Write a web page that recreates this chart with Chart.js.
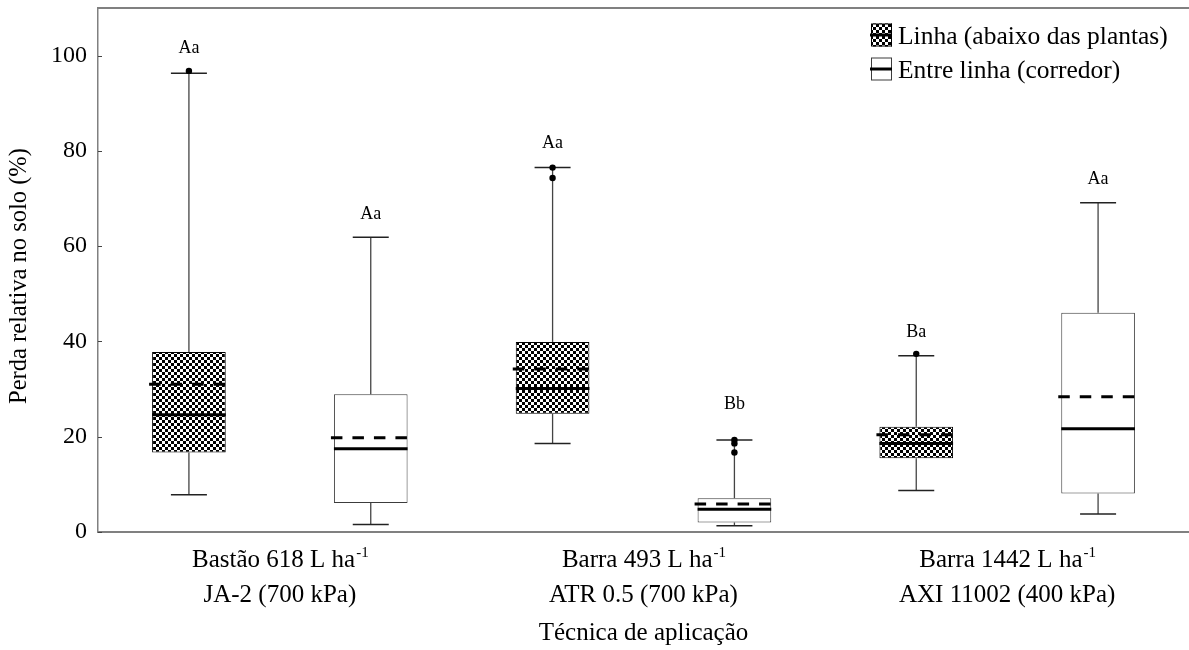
<!DOCTYPE html>
<html>
<head>
<meta charset="utf-8">
<script src="https://cdn.jsdelivr.net/npm/chart.js@4.4.0/dist/chart.umd.min.js"></script>
<style>
  html, body { margin: 0; padding: 0; background: #fff; }
  canvas { display: block; }
</style>
</head>
<body>
<canvas id="chart" width="1189" height="650"></canvas>
<script>
// Application techniques (x categories): rate line with superscript unit, nozzle line
const rateLabels = ['Bastão 618 L ha', 'Barra 493 L ha', 'Barra 1442 L ha'];
const rateUnitSup = '-1';
const nozzleLabels = ['JA-2 (700 kPa)', 'ATR 0.5 (700 kPa)', 'AXI 11002 (400 kPa)'];
const xTitle = 'Técnica de aplicação';
const yTitle = 'Perda relativa no solo (%)';
const yTicks = [0, 20, 40, 60, 80, 100];
const seriesNames = ['Linha (abaixo das plantas)', 'Entre linha (corredor)'];

// Linha (abaixo das plantas)
const linhaMin = [7.8, 18.6, 8.7];
const linhaQ1 = [16.7, 24.8, 15.5];
const linhaMedian = [24.6, 30.1, 18.6];
const linhaMean = [31.0, 34.2, 20.4];
const linhaQ3 = [37.8, 39.9, 22.1];
const linhaMax = [96.3, 76.5, 37.0];
const linhaOutliers = [[96.8], [76.5, 74.3], [37.4]];
const linhaLetters = ['Aa', 'Aa', 'Ba'];
const linhaLetterAt = [101.5, 81.7, 42.0];

// Entre linha (corredor)
const entreMin = [1.6, 1.3, 3.8];
const entreQ1 = [6.1, 2.0, 8.1];
const entreMedian = [17.5, 4.8, 21.7];
const entreMean = [19.8, 5.9, 28.4];
const entreQ3 = [28.9, 7.1, 46.0];
const entreMax = [61.9, 19.3, 69.1];
const entreOutliers = [[], [19.3, 18.6, 16.7], []];
const entreLetters = ['Aa', 'Bb', 'Aa'];
const entreLetterAt = [66.7, 26.9, 74.1];

const SERIF = '"Liberation Serif", "Times New Roman", serif';
const AXIS_GREY = '#808080';

// 3px black/white checkerboard used for the "Linha" boxes
function checkerTile() {
  const c = document.createElement('canvas');
  c.width = 6; c.height = 6;
  const g = c.getContext('2d');
  g.fillStyle = '#fff'; g.fillRect(0, 0, 6, 6);
  g.fillStyle = '#000'; g.fillRect(0, 0, 3, 3); g.fillRect(3, 3, 3, 3);
  return c;
}
const canvas = document.getElementById('chart');
const checkerFill = canvas.getContext('2d').createPattern(checkerTile(), 'repeat');

const series = [
  { name: seriesNames[0], min: linhaMin, q1: linhaQ1, median: linhaMedian, mean: linhaMean,
    q3: linhaQ3, max: linhaMax, outliers: linhaOutliers, letters: linhaLetters,
    letterAt: linhaLetterAt, fill: checkerFill, edge: '#000' },
  { name: seriesNames[1], min: entreMin, q1: entreQ1, median: entreMedian, mean: entreMean,
    q3: entreQ3, max: entreMax, outliers: entreOutliers, letters: entreLetters,
    letterAt: entreLetterAt, fill: '#fff', edge: '#3c3c3c' }
];

function seg(ctx, x1, y1, x2, y2) {
  ctx.beginPath(); ctx.moveTo(x1, y1); ctx.lineTo(x2, y2); ctx.stroke();
}

// Whiskers, caps, medians, means, outliers and significance letters
const boxExtras = {
  id: 'boxExtras',
  afterDatasetsDraw(chart) {
    const ctx = chart.ctx;
    const ys = chart.scales.y;
    series.forEach((s, di) => {
      chart.getDatasetMeta(di).data.forEach((bar, i) => {
        const { x, width } = bar.getProps(['x', 'width'], true);
        const half = width / 2;
        const left = x - half, right = x + half;
        const py = v => ys.getPixelForValue(v);
        const capHalf = 18;
        ctx.save();
        ctx.strokeStyle = '#444';
        ctx.lineWidth = 1.3;
        seg(ctx, x, py(s.q3[i]), x, py(s.max[i]));
        seg(ctx, x, py(s.q1[i]), x, py(s.min[i]));
        ctx.lineWidth = 1.5;
        ctx.strokeStyle = '#222';
        seg(ctx, x - capHalf, py(s.max[i]), x + capHalf, py(s.max[i]));
        seg(ctx, x - capHalf, py(s.min[i]), x + capHalf, py(s.min[i]));
        // median
        ctx.strokeStyle = '#000';
        ctx.lineWidth = 3;
        seg(ctx, left, py(s.median[i]), right, py(s.median[i]));
        // mean
        ctx.setLineDash([11.5, 10]);
        seg(ctx, left - 3, py(s.mean[i]), right, py(s.mean[i]));
        ctx.setLineDash([]);
        // outliers
        ctx.fillStyle = '#000';
        s.outliers[i].forEach(v => {
          ctx.beginPath(); ctx.arc(x, py(v), 3.2, 0, Math.PI * 2); ctx.fill();
        });
        // letters
        ctx.font = '18px ' + SERIF;
        ctx.textAlign = 'center';
        ctx.textBaseline = 'middle';
        ctx.fillText(s.letters[i], x, py(s.letterAt[i]));
        ctx.restore();
      });
    });
  },
  afterDraw(chart) {
    const ctx = chart.ctx;
    const area = chart.chartArea;
    const xs = chart.scales.x, ys = chart.scales.y;
    ctx.save();
    // top frame line
    ctx.strokeStyle = AXIS_GREY;
    ctx.lineWidth = 2;
    seg(ctx, area.left, area.top, area.right, area.top);
    // inward y tick marks
    ctx.lineWidth = 1;
    ctx.strokeStyle = '#444';
    yTicks.forEach(v => {
      const p = Math.round(ys.getPixelForValue(v)) + 0.5;
      seg(ctx, area.left, p, area.left + 4, p);
    });

    // category labels
    const labFont = '25px ' + SERIF;
    const supFont = '15px ' + SERIF;
    ctx.fillStyle = '#000';
    ctx.textBaseline = 'alphabetic';
    rateLabels.forEach((lab, i) => {
      const cx = xs.getPixelForValue(i);
      ctx.font = labFont;
      const w1 = ctx.measureText(lab).width;
      ctx.font = supFont;
      const w2 = ctx.measureText(rateUnitSup).width;
      const x0 = cx - (w1 + w2) / 2;
      ctx.textAlign = 'left';
      ctx.font = labFont;
      ctx.fillText(lab, x0, 567);
      ctx.font = supFont;
      ctx.fillText(rateUnitSup, x0 + w1 + 1, 557);
      ctx.textAlign = 'center';
      ctx.font = labFont;
      ctx.fillText(nozzleLabels[i], cx, 602);
    });
    ctx.textAlign = 'center';
    ctx.font = labFont;
    ctx.fillText(xTitle, (area.left + area.right) / 2, 640);

    // y title
    ctx.save();
    ctx.translate(20, 276);
    ctx.rotate(-Math.PI / 2);
    ctx.textBaseline = 'middle';
    ctx.font = '24.5px ' + SERIF;
    ctx.fillText(yTitle, 0, 0);
    ctx.restore();

    // legend
    const lx = 871, iconW = 21, iconH = 23;
    const rows = [35, 69];
    series.forEach((s, di) => {
      const cy = rows[di];
      ctx.fillStyle = s.fill;
      ctx.fillRect(lx, cy - iconH / 2, iconW, iconH);
      ctx.strokeStyle = s.edge;
      ctx.lineWidth = 1;
      ctx.strokeRect(lx + 0.5, cy - iconH / 2 + 0.5, iconW - 1, iconH - 1);
      ctx.strokeStyle = '#000';
      ctx.lineWidth = 3;
      seg(ctx, lx - 1, cy, lx + iconW, cy);
      ctx.fillStyle = '#000';
      ctx.font = '25.5px ' + SERIF;
      ctx.textAlign = 'left';
      ctx.textBaseline = 'middle';
      ctx.fillText(s.name, lx + 27, cy + 2);
    });
    ctx.restore();
  }
};

new Chart(canvas, {
  type: 'bar',
  data: {
    labels: rateLabels,
    datasets: series.map(s => ({
      label: s.name,
      data: s.q1.map((v, i) => [v, s.q3[i]]),
      backgroundColor: s.fill,
      borderColor: s.edge,
      borderWidth: 1,
      borderSkipped: false,
      barPercentage: 0.405,
      categoryPercentage: 1.0
    }))
  },
  options: {
    responsive: false,
    animation: false,
    events: [],
    layout: { padding: { top: 8, right: 0, bottom: 0, left: 0 } },
    plugins: { legend: { display: false }, tooltip: { enabled: false } },
    scales: {
      x: {
        grid: { display: false, drawTicks: false },
        border: { display: true, color: AXIS_GREY, width: 2 },
        ticks: { display: false },
        afterFit(scale) {
          scale.height = 118;
          scale.paddingLeft = 0; scale.paddingRight = 0;
        }
      },
      y: {
        min: 0,
        max: 110,
        grid: { display: false, drawTicks: false },
        border: { display: true, color: AXIS_GREY, width: 1.5 },
        afterBuildTicks(scale) { scale.ticks = yTicks.map(v => ({ value: v })); },
        ticks: {
          padding: 11,
          color: '#000',
          font: { family: SERIF, size: 24 }
        },
        afterFit(scale) {
          scale.width = 98;
          scale.paddingTop = 0; scale.paddingBottom = 0;
        }
      }
    }
  },
  plugins: [boxExtras]
});
</script>
</body>
</html>
